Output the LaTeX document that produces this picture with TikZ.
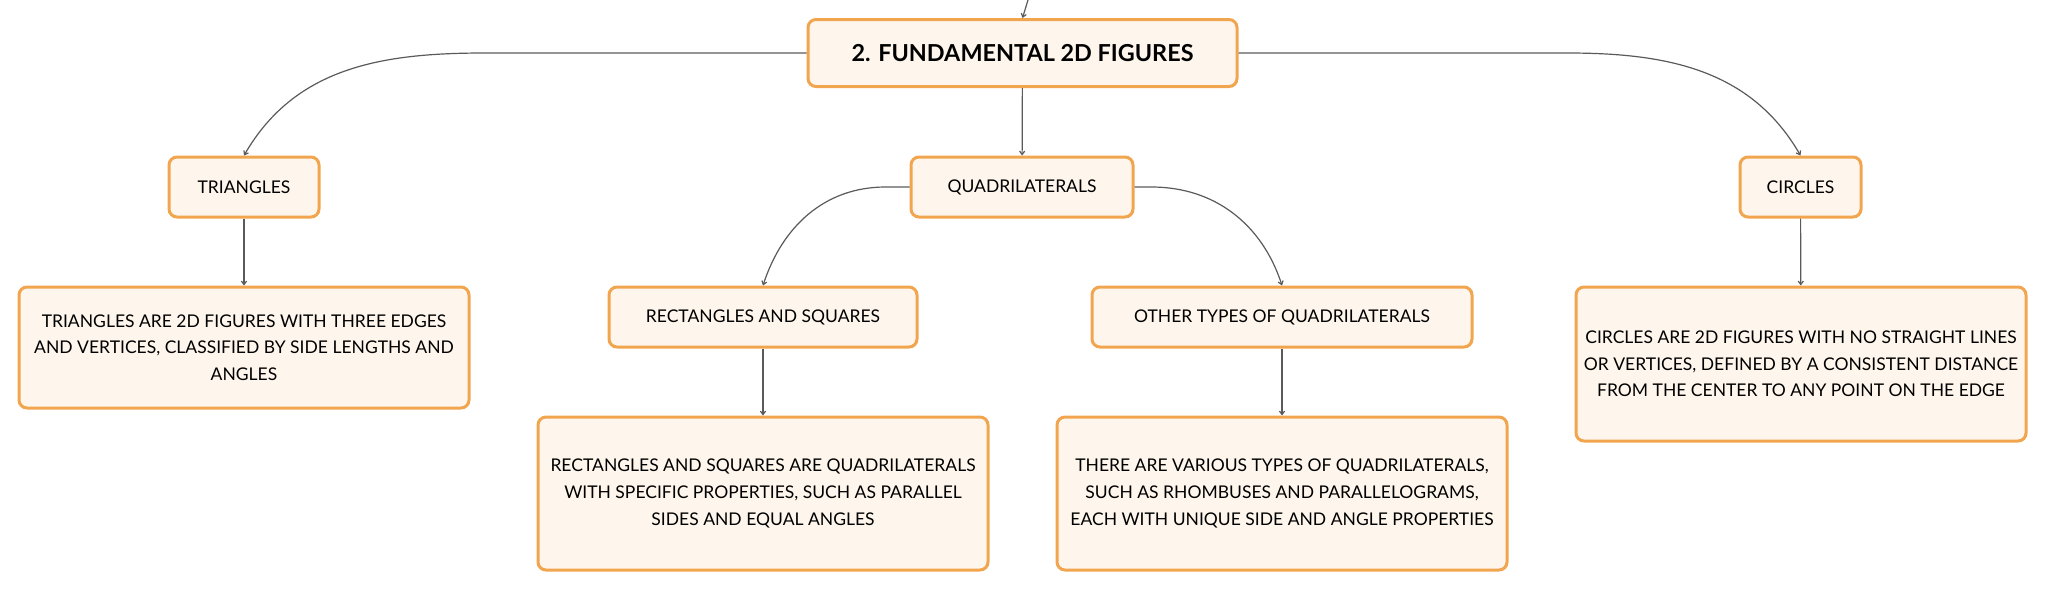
\documentclass[tikz,border=0pt]{standalone}
\usepackage{fontspec}
\setmainfont{Lato}
\usetikzlibrary{arrows.meta,positioning}
\tikzset{>={Straight Barb[width=0.9mm,length=0.6mm]}}
\definecolor{boxline}{HTML}{F2A54F}
\definecolor{boxfill}{HTML}{FEF6EC}
\definecolor{linkgray}{HTML}{5A5A5A}

\begin{document}
\begin{tikzpicture}[x=0.5pt,y=-0.5pt]
      \tikzstyle{topic} = [draw=boxline, fill=boxfill, line width=1.5pt, rounded corners=4pt, inner sep=0pt, align=center, font=\fontsize{8.75}{13.3}\selectfont]
      \tikzstyle{main} = [topic, minimum width=214.5pt, minimum height=33.5pt, font=\fontsize{11.7}{15}\selectfont\bfseries]
      \tikzstyle{subtopic} = [topic, minimum height=30pt]
      \tikzstyle{detail} = [topic, minimum width=225pt]
      \tikzstyle{link} = [->, draw=linkgray, line width=0.6pt]
      \useasboundingbox (0,0) rectangle (2046,591);

      \node[main] (root) at (1022.5,53) {2. FUNDAMENTAL 2D FIGURES};
      \node[subtopic, minimum width=75pt] (tri) at (244,187) {TRIANGLES};
      \node[subtopic, minimum width=111pt] (quad) at (1022,187) {QUADRILATERALS};
      \node[subtopic, minimum width=60.5pt] (circ) at (1800.5,187) {CIRCLES};
      \node[detail, minimum height=60.5pt] (tridesc) at (244,347.5) {TRIANGLES ARE 2D FIGURES WITH THREE EDGES\\AND VERTICES, CLASSIFIED BY SIDE LENGTHS AND\\ANGLES};
      \node[subtopic, minimum width=154pt] (rect) at (763,317) {RECTANGLES AND SQUARES};
      \node[detail, minimum height=76.5pt] (rectdesc) at (763,493.5) {RECTANGLES AND SQUARES ARE QUADRILATERALS\\WITH SPECIFIC PROPERTIES, SUCH AS PARALLEL\\SIDES AND EQUAL ANGLES};
      \node[subtopic, minimum width=190pt] (other) at (1282,317) {OTHER TYPES OF QUADRILATERALS};
      \node[detail, minimum height=76.5pt] (otherdesc) at (1282,493.5) {THERE ARE VARIOUS TYPES OF QUADRILATERALS,\\SUCH AS RHOMBUSES AND PARALLELOGRAMS,\\EACH WITH UNIQUE SIDE AND ANGLE PROPERTIES};
      \node[detail, minimum height=77pt] (circdesc) at (1801,364) {CIRCLES ARE 2D FIGURES WITH NO STRAIGHT LINES\\OR VERTICES, DEFINED BY A CONSISTENT DISTANCE\\FROM THE CENTER TO ANY POINT ON THE EDGE};

      \coordinate (up) at (1028,0);
      \draw[link] (up) -- (root.north);
      \draw[link] (root.west) -- ++(-322,0) to[out=180,in=60] (tri.north);
      \draw[link] (root.east) -- ++(329,0) to[out=0,in=120] (circ.north);
      \draw[link] (root) -- (quad);
      \draw[link] (quad.west) -- ++(-24,0) to[out=180,in=72] (rect.north);
      \draw[link] (quad.east) -- ++(17,0) to[out=0,in=108] (other.north);

      \draw[link] (tri) -- (tridesc);
      \draw[link] (rect) -- (rectdesc);
      \draw[link] (other) -- (otherdesc);
      \draw[link] (circ) -- (circdesc);
\end{tikzpicture}
\end{document}
